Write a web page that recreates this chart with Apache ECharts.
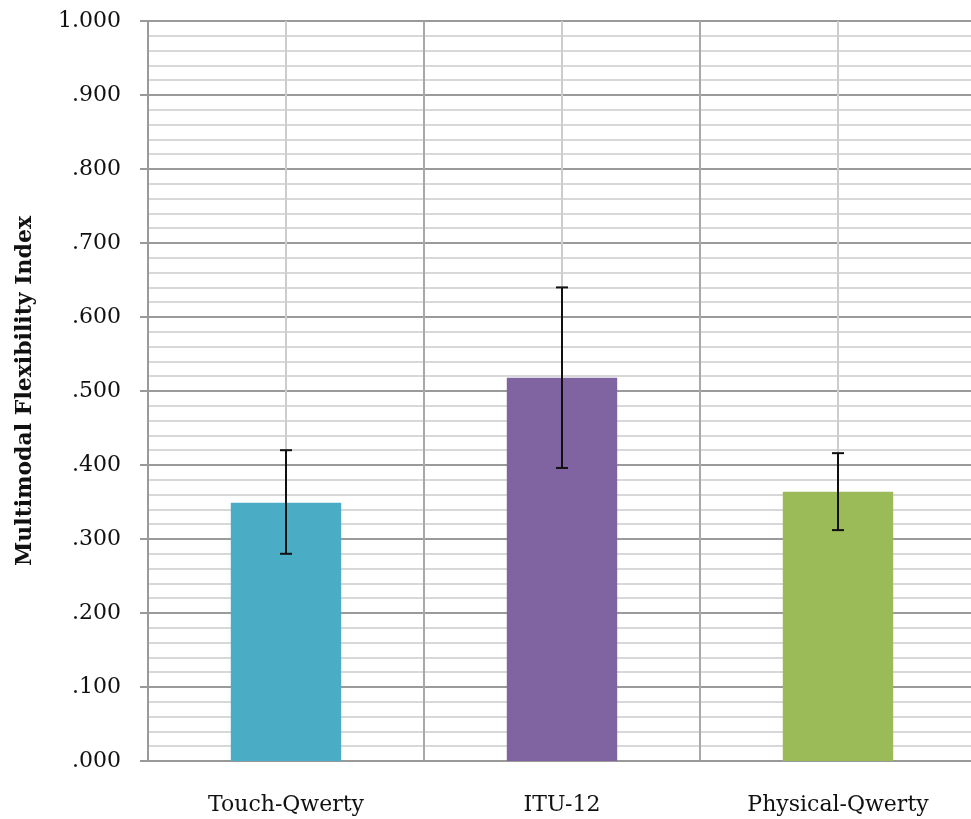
<!DOCTYPE html>
<html>
<head>
<meta charset="utf-8">
<script src="https://cdn.jsdelivr.net/npm/echarts@6/dist/echarts.min.js"></script>
<style>html,body{margin:0;padding:0;background:#fff}#c{width:971px;height:819px}</style>
</head>
<body>
<div id="c"></div>
<script>
var categories = ['Touch-Qwerty', 'ITU-12', 'Physical-Qwerty'];
var means = [0.349, 0.518, 0.364];
var errLow = [0.280, 0.396, 0.312];
var errHigh = [0.420, 0.640, 0.416];
var barColors = ['#4BACC6', '#8064A2', '#9BBB59'];
var yTicks = [0, 0.1, 0.2, 0.3, 0.4, 0.5, 0.6, 0.7, 0.8, 0.9, 1.0];

var chart = echarts.init(document.getElementById('c'));
var font = 'DejaVu Serif';
chart.setOption({
  animation: false,
  grid: { left: 148, top: 21, width: 828, height: 740, outerBoundsMode: 'none', containLabel: false },
  xAxis: [{
    type: 'category',
    data: categories,
    axisLine: { lineStyle: { color: '#999', width: 2 } },
    axisTick: { length: 8, lineStyle: { color: '#999', width: 2 } },
    axisLabel: { color: '#111', fontFamily: font, fontSize: 22, margin: 33 },
    splitLine: { show: false }
  }, {
    type: 'category',
    data: ['', '', '', '', '', ''],
    position: 'bottom',
    axisLine: { show: false },
    axisTick: { show: false },
    axisLabel: { show: false },
    splitLine: { show: true, interval: 0, lineStyle: { color: ['#a8a8a8', '#cccccc'], width: 2 } }
  }],
  yAxis: {
    type: 'value',
    min: yTicks[0],
    max: yTicks[yTicks.length - 1],
    interval: 0.1,
    name: 'Multimodal Flexibility Index',
    nameLocation: 'middle',
    nameGap: 112,
    nameTextStyle: { color: '#111', fontFamily: font, fontSize: 22, fontWeight: 'bold' },
    axisLine: { show: true, lineStyle: { color: '#999', width: 2 } },
    axisTick: { show: true, length: 8, lineStyle: { color: '#999', width: 2 } },
    axisLabel: {
      color: '#111', fontFamily: font, fontSize: 22, margin: 27,
      formatter: function (v) { var s = v.toFixed(3); return s.charAt(0) === '0' ? s.slice(1) : s; }
    },
    splitLine: { show: true, lineStyle: { color: '#9a9a9a', width: 2 } },
    minorTick: { show: false, splitNumber: 5 },
    minorSplitLine: { show: true, lineStyle: { color: '#cbcbcb', width: 1.5 } }
  },
  series: [{
    type: 'bar',
    xAxisIndex: 0,
    barWidth: '40%',
    data: means.map(function (v, i) { return { value: v, itemStyle: { color: barColors[i] } }; }),
    z: 2
  }, {
    type: 'custom',
    xAxisIndex: 0,
    z: 3,
    data: categories.map(function (c, i) { return [i, errLow[i], errHigh[i]]; }),
    renderItem: function (params, api) {
      var x = api.value(0);
      var lo = api.coord([x, api.value(1)]);
      var hi = api.coord([x, api.value(2)]);
      var hw = 6;
      var st = { stroke: '#111', lineWidth: 2 };
      return {
        type: 'group',
        children: [
          { type: 'line', shape: { x1: hi[0], y1: hi[1], x2: lo[0], y2: lo[1] }, style: st },
          { type: 'line', shape: { x1: hi[0] - hw, y1: hi[1], x2: hi[0] + hw, y2: hi[1] }, style: st },
          { type: 'line', shape: { x1: lo[0] - hw, y1: lo[1], x2: lo[0] + hw, y2: lo[1] }, style: st }
        ]
      };
    }
  }]
});
</script>
</body>
</html>
